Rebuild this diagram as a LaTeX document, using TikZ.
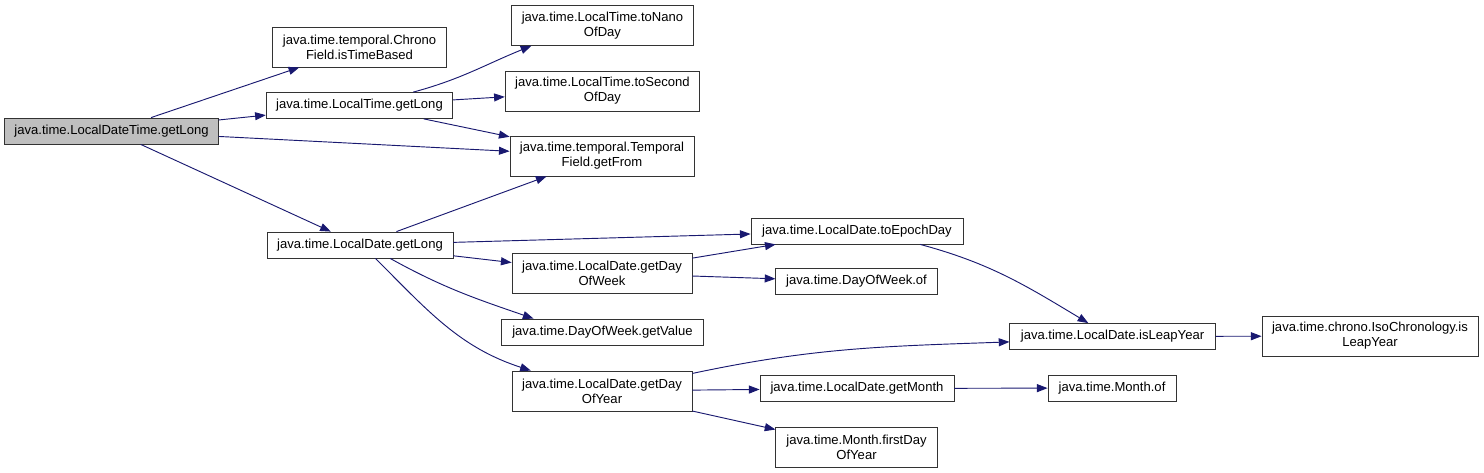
\documentclass[tikz,border=0pt]{standalone}
\usepackage{fontspec}
\setmainfont{Liberation Sans}
\usepackage{xcolor}
\usepackage{tikz}
\usetikzlibrary{arrows.meta}
\definecolor{callblue}{HTML}{191970}
\definecolor{rootgray}{HTML}{BFBFBF}

\begin{document}
\begin{tikzpicture}[
  x=0.75pt, y=-0.75pt,
  fn/.style={
    rectangle,
    draw=black!80,
    fill=white,
    line width=0.6pt,
    inner sep=1pt,
    minimum height=19.5pt,
    align=center,
    font=\fontsize{9.8}{11.3}\selectfont
  },
  fntwo/.style={fn, minimum height=30pt},
  root/.style={fn, fill=rootgray},
  call/.style={-{Triangle[length=8pt,width=6pt,fill=callblue]}, line width=0.7pt, draw=callblue}
]
\useasboundingbox (0,0) rectangle (1484,473);

\node[root, minimum width=160pt] (dtlong) at (111.5,131) {java.time.LocalDateTime.getLong};

\node[fntwo, minimum width=130pt] (timebased) at (359.5,47) {java.time.temporal.Chrono\\Field.isTimeBased};
\node[fn, minimum width=140pt] (tlong) at (359.5,105.5) {java.time.LocalTime.getLong};
\node[fn, minimum width=139.5pt] (dlong) at (360,245) {java.time.LocalDate.getLong};

\node[fntwo, minimum width=136pt] (nano) at (602.5,25.5) {java.time.LocalTime.toNano\\OfDay};
\node[fntwo, minimum width=146pt] (second) at (602.5,91) {java.time.LocalTime.toSecond\\OfDay};
\node[fntwo, minimum width=138pt] (getfrom) at (602,156) {java.time.temporal.Temporal\\Field.getFrom};
\node[fntwo, minimum width=135pt] (dow) at (602,273) {java.time.LocalDate.getDay\\OfWeek};
\node[fn, minimum width=152pt] (dowval) at (602.5,332) {java.time.DayOfWeek.getValue};
\node[fntwo, minimum width=135pt] (doy) at (602,391) {java.time.LocalDate.getDay\\OfYear};

\node[fn, minimum width=159pt] (epoch) at (857,231) {java.time.LocalDate.toEpochDay};
\node[fn, minimum width=121pt] (dowof) at (856.5,281.5) {java.time.DayOfWeek.of};
\node[fn, minimum width=145.5pt] (month) at (857,388.5) {java.time.LocalDate.getMonth};
\node[fntwo, minimum width=121pt] (firstday) at (856.5,447.5) {java.time.Month.firstDay\\OfYear};

\node[fn, minimum width=154pt] (leap) at (1112.5,336.5) {java.time.LocalDate.isLeapYear};
\node[fn, minimum width=96pt] (monthof) at (1112,388) {java.time.Month.of};
\node[fntwo, minimum width=162pt] (isoleap) at (1370,336) {java.time.chrono.IsoChronology.is\\LeapYear};

% calls from the root
\draw[call] (dtlong) -- (timebased);
\draw[call] (dtlong) -- (tlong);
\draw[call] (dtlong) -- (getfrom);
\draw[call] (dtlong) -- (dlong);

% LocalTime.getLong
\draw[call] (tlong.14) to[out=15, in=-158] (nano.196);
\draw[call] (tlong) -- (second);
\draw[call] (tlong) -- (getfrom);

% LocalDate.getLong
\draw[call] (dlong) -- (getfrom);
\draw[call] (dlong) -- (epoch);
\draw[call] (dlong) -- (dow);
\draw[call] (dlong.-24) to[out=-29, in=161] (dowval.169);
\draw[call] (dlong.-41) to[out=-45, in=162] (doy.164);

% further down
\draw[call] (dow) -- (epoch);
\draw[call] (dow) -- (dowof);
\draw[call] (epoch.-12) to[out=-15, in=149] (leap.151);
\draw[call] (doy.11) to[out=12, in=182] (leap.183);
\draw[call] (doy) -- (month);
\draw[call] (doy) -- (firstday);
\draw[call] (leap) -- (isoleap);
\draw[call] (month) -- (monthof);

\end{tikzpicture}
\end{document}
